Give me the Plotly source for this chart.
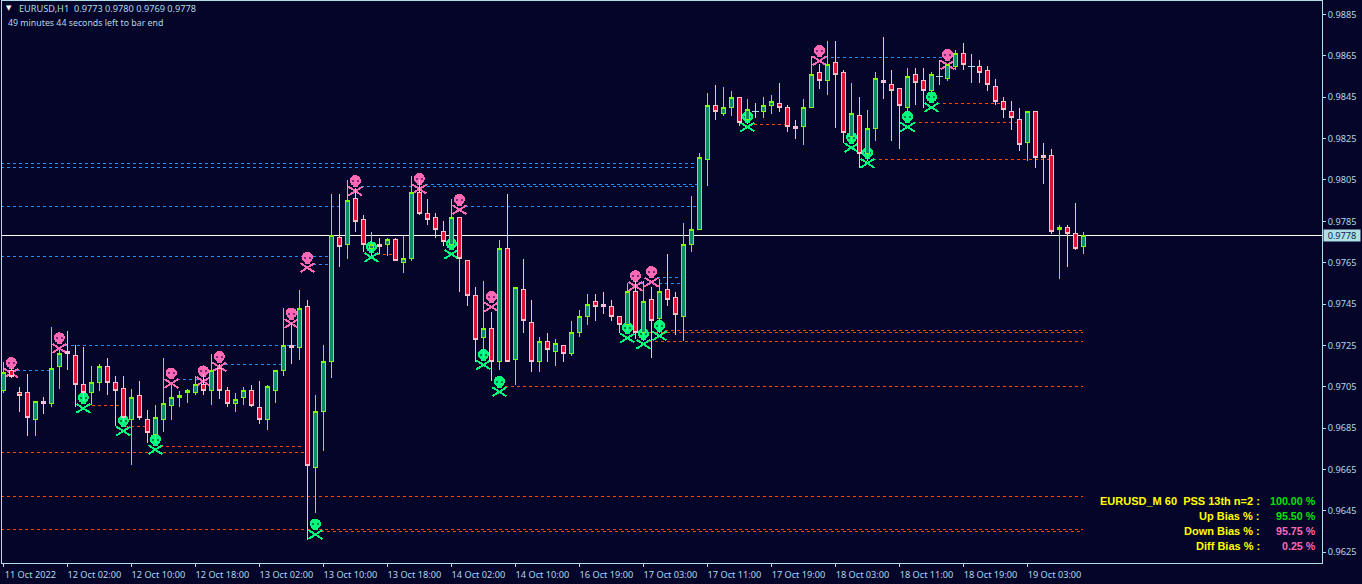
import numpy as np
import plotly.graph_objects as go

tick_labels = ["11 Oct 2022","12 Oct 02:00","12 Oct 10:00","12 Oct 18:00","13 Oct 02:00","13 Oct 10:00",
               "13 Oct 18:00","14 Oct 02:00","14 Oct 10:00","16 Oct 19:00","17 Oct 03:00","17 Oct 11:00",
               "17 Oct 19:00","18 Oct 03:00","18 Oct 11:00","18 Oct 19:00","19 Oct 03:00"]
price_ticks = [0.9885,0.9865,0.9845,0.9825,0.9805,0.9785,0.9765,0.9745,0.9725,0.9705,0.9685,0.9665,0.9645,0.9625]

opens = [.9703,.9713,.9702,.9702,.9689,.9698,.9697,.9715,.9722,.9720,
 .9706,.9702,.9707,.9715,.9707,.9704,.9689,.9701,.9689,.9682,
 .9689,.9696,.9700,.9702,.9702,.9706,.9703,.9714,.9703,.9697,
 .9700,.9703,.9695,.9689,.9703,.9713,.9725,.9724,.9744,.9666,
 .9693,.9717,.9777,.9774,.9796,.9786,.9772,.9774,.9774,.9776,
 .9765,.9767,.9799,.9789,.9787,.9780,.9774,.9787,.9766,.9749,
 .9729,.9733,.9717,.9772,.9718,.9752,.9736,.9717,.9727,.9722,
 .9725,.9721,.9731,.9739,.9746,.9745,.9744,.9739,.9735,.9751,
 .9731,.9747,.9738,.9752,.9748,.9739,.9774,.9781,.9815,.9841,
 .9837,.9840,.9845,.9834,.9838,.9838,.9841,.9842,.9840,.9831,
 .9831,.9840,.9857,.9853,.9862,.9857,.9826,.9836,.9818,.9830,
 .9853,.9851,.9849,.9840,.9856,.9853,.9848,.9855,.9854,.9860,
 .9866,.9860,.9860,.9858,.9850,.9843,.9838,.9834,.9823,.9838,
 .9817,.9817,.9781,.9782,.9779,.9773]
closes = [.9712,.9710,.9701,.9690,.9698,.9697,.9714,.9721,.9721,.9706,
 .9702,.9707,.9715,.9707,.9703,.9690,.9700,.9690,.9683,.9690,
 .9697,.9700,.9701,.9703,.9706,.9703,.9713,.9703,.9697,.9699,
 .9703,.9696,.9689,.9705,.9713,.9725,.9724,.9743,.9667,.9693,
 .9717,.9778,.9773,.9795,.9785,.9774,.9774,.9773,.9776,.9766,
 .9767,.9799,.9789,.9786,.9781,.9775,.9787,.9767,.9749,.9728,
 .9733,.9717,.9772,.9717,.9753,.9737,.9717,.9727,.9723,.9726,
 .9721,.9731,.9739,.9745,.9744,.9744,.9739,.9735,.9751,.9731,
 .9746,.9737,.9751,.9747,.9740,.9774,.9781,.9816,.9841,.9838,
 .9840,.9845,.9833,.9839,.9838,.9841,.9843,.9840,.9831,.9830,
 .9840,.9856,.9853,.9861,.9856,.9828,.9837,.9818,.9830,.9854,
 .9852,.9848,.9841,.9855,.9852,.9848,.9856,.9855,.9861,.9866,
 .9861,.9860,.9857,.9851,.9843,.9839,.9835,.9822,.9838,.9816,
 .9816,.9780,.9782,.9779,.9772,.9778]
highs = [.9717,.9714,.9705,.9711,.9698,.9700,.9734,.9723,.9732,.9725,
 .9724,.9715,.9716,.9719,.9710,.9710,.9704,.9708,.9694,.9696,
 .9719,.9706,.9703,.9704,.9710,.9711,.9721,.9716,.9705,.9702,
 .9705,.9706,.9708,.9706,.9713,.9743,.9736,.9752,.9747,.9701,
 .9725,.9798,.9798,.9805,.9801,.9788,.9780,.9777,.9777,.9777,
 .9778,.9807,.9805,.9796,.9789,.9785,.9796,.9787,.9766,.9753,
 .9756,.9741,.9776,.9798,.9753,.9767,.9747,.9729,.9731,.9728,
 .9725,.9737,.9742,.9750,.9750,.9751,.9747,.9739,.9755,.9756,
 .9756,.9753,.9757,.9769,.9751,.9784,.9797,.9818,.9847,.9851,
 .9850,.9848,.9845,.9844,.9842,.9845,.9846,.9852,.9841,.9834,
 .9844,.9865,.9861,.9872,.9872,.9858,.9852,.9845,.9839,.9857,
 .9874,.9858,.9849,.9859,.9859,.9859,.9857,.9863,.9861,.9868,
 .9871,.9866,.9863,.9860,.9854,.9845,.9843,.9840,.9838,.9838,
 .9823,.9820,.9783,.9783,.9794,.9780]
lows = [.9702,.9709,.9693,.9681,.9681,.9692,.9695,.9704,.9713,.9695,
 .9698,.9696,.9703,.9701,.9686,.9688,.9667,.9689,.9678,.9678,
 .9683,.9689,.9695,.9697,.9701,.9701,.9696,.9699,.9695,.9693,
 .9696,.9695,.9687,.9684,.9697,.9710,.9716,.9718,.9631,.9644,
 .9674,.9709,.9763,.9767,.9780,.9770,.9768,.9769,.9768,.9766,
 .9760,.9766,.9788,.9783,.9777,.9773,.9773,.9751,.9744,.9717,
 .9719,.9708,.9713,.9717,.9706,.9731,.9712,.9712,.9717,.9715,
 .9717,.9720,.9729,.9735,.9737,.9740,.9737,.9731,.9732,.9728,
 .9727,.9719,.9731,.9744,.9730,.9727,.9770,.9781,.9802,.9834,
 .9836,.9836,.9831,.9832,.9835,.9835,.9837,.9838,.9828,.9825,
 .9822,.9840,.9849,.9846,.9830,.9823,.9824,.9811,.9814,.9824,
 .9844,.9824,.9820,.9838,.9841,.9840,.9847,.9851,.9853,.9858,
 .9858,.9852,.9852,.9848,.9841,.9835,.9829,.9819,.9814,.9811,
 .9803,.9779,.9757,.9763,.9771,.9769]

last_price = 0.9778

# dashed level lines: price, first bar, last bar
blue_levels = [.9813,.9811,.9803,.9802,.9792,.9792,.9768,.9764,.9725,.9713,.9716,.97085,.9758,.9755,.9864]
blue_starts = [-1,-1,52.7,44.7,-1,57.7,-1,38.7,7.7,1.7,27.7,21.7,81.7,79.7,102.7]
blue_ends   = [86.8,86.8,86.8,86.8,42,86.8,41,41,36.6,6,35,24.7,84.4,84.7,117.7]
red_levels = [.9673,.9676,.9696,.9686,.9769,.9705,.9832,.9833,.9842,.9815,.9732,.9731,.9727,.9652,.9636,.9635]
red_starts = [-1,19.6,10.3,15.2,46.7,62.7,93.8,113.7,116.7,108.7,82.7,80.7,80.7,-1,-1,39.7]
red_ends   = [37.8,37.5,14.6,17.8,48.6,134.9,97.7,126.7,124.6,130.9,134.9,134.9,134.9,134.9,134.9,134.9]

# skull markers: bar index, price
pink_bars   = [1,7,21,25,27,36,38,44,52,57,61,79,81,102,118]
pink_prices = [.9714,.9726,.9709,.9710,.9717,.9738,.9765,.9802,.9803,.9793,.9746,.9756,.9758,.9865,.9863]
lime_bars   = [10,15,19,39,46,56,60,62,78,80,82,93,106,108,113,116]
lime_prices = [.9697,.9686,.9677,.9636,.9770,.97715,.9718,.9705,.9731,.9728,.9732,.9833,.9823,.98155,.9833,.98425]

header_text = "EURUSD,H1  0.9773 0.9780 0.9769 0.9778"
timer_text = "49 minutes 44 seconds left to bar end"
panel_names = ["EURUSD_M 60  PSS 13th n=2 :","Up Bias % :","Down Bias % :","Diff Bias % :"]
panel_values = ["100.00 %","95.50 %","95.75 %","0.25 %"]
panel_colors = ["#00e400","#00e400","#ff69b4","#ff69b4"]

BG = "#05052a"
AXIS = "#b0e0e6"
TXT = "#add8e6"
TICKFONT = dict(family="Noto Sans", size=9.2, color=TXT)

W, H = 1362, 584
ML, MR, MT, MB = 2, 40, 1, 21
def px(x): return (x-ML)/(W-ML-MR)
def py(y): return (H-MB-y)/(H-MT-MB)

x_range = [(ML+0.3-3.6)/8, (W-MR-3.6)/8]
y_range = [0.96198, 0.98915]
PRICE_PER_PX = (y_range[1]-y_range[0])/(H-MT-MB)
BAR_PER_PX = 1/8

def segments(levels, starts, ends):
    xs, ys = [], []
    for l, s, e in zip(levels, starts, ends):
        xs += [s, e, None]; ys += [l, l, None]
    return xs, ys

def add_skulls(fig, bars_, prices, col, eye):
    b = np.array(bars_, float); p = np.array(prices, float)
    # crossbones
    xs, ys = [], []
    for bi, pi in zip(b, p):
        for sx in (-1, 1):
            xs += [bi - sx*7*BAR_PER_PX, bi + sx*7*BAR_PER_PX, None]
            ys += [pi - 0.5*PRICE_PER_PX, pi - 9.5*PRICE_PER_PX, None]
    fig.add_trace(go.Scatter(x=xs, y=ys, mode="lines", hoverinfo="skip", line=dict(color=col, width=2)))
    # cranium and jaw
    fig.add_trace(go.Scatter(x=b, y=p + 5.5*PRICE_PER_PX, mode="markers", hoverinfo="skip",
                             marker=dict(symbol="circle", size=11, color=col, line=dict(width=0))))
    fig.add_trace(go.Scatter(x=b, y=p + 1.5*PRICE_PER_PX, mode="markers", hoverinfo="skip",
                             marker=dict(symbol="square", size=5, color=col, line=dict(width=0))))
    # eyes
    ex = np.concatenate([b - 2.2*BAR_PER_PX, b + 2.2*BAR_PER_PX])
    ey = np.concatenate([p + 5*PRICE_PER_PX, p + 5*PRICE_PER_PX])
    fig.add_trace(go.Scatter(x=ex, y=ey, mode="markers", hoverinfo="skip",
                             marker=dict(symbol="square", size=2, color=eye, line=dict(width=0))))

o, c, h, l = map(np.array, (opens, closes, highs, lows))
bars = np.arange(len(o))
doji = o == c

fig = go.Figure()
for lv, st, en, col in ((blue_levels, blue_starts, blue_ends, "#1e90ff"),
                        (red_levels, red_starts, red_ends, "#ff4500")):
    xs, ys = segments(lv, st, en)
    fig.add_trace(go.Scatter(x=xs, y=ys, mode="lines", hoverinfo="skip",
                             line=dict(color=col, width=1, dash="3px,3px")))
fig.add_trace(go.Scatter(x=[-1, 170], y=[last_price, last_price], mode="lines", hoverinfo="skip",
                         line=dict(color="#ffffff", width=1)))
add_skulls(fig, pink_bars, pink_prices, "#ff69b4", "#7a2a7a")
add_skulls(fig, lime_bars, lime_prices, "#00fa7a", "#067a4a")

fig.add_trace(go.Candlestick(x=bars[~doji], open=o[~doji], high=h[~doji], low=l[~doji], close=c[~doji],
                             xaxis="x2", yaxis="y2", whiskerwidth=0,
                             increasing=dict(line=dict(color="#7cfc00", width=1), fillcolor="#0e8a64"),
                             decreasing=dict(line=dict(color="#ffc0cb", width=1), fillcolor="#dc143c")))
dx, dy = [], []
for i in bars[doji]:
    dx += [int(i), int(i), None]; dy += [h[i], l[i], None]
fig.add_trace(go.Scatter(x=dx, y=dy, mode="lines", xaxis="x2", yaxis="y2", hoverinfo="skip",
                         line=dict(color=TXT, width=1)))
fig.add_trace(go.Scatter(x=bars[doji], y=c[doji], mode="markers", xaxis="x2", yaxis="y2", hoverinfo="skip",
                         marker=dict(symbol="line-ew", size=5, line=dict(color=TXT, width=1))))

ann = [
    dict(text="\u25bc", x=px(5), y=py(8), xanchor="left", font=dict(family="DejaVu Sans", size=7, color="#ffffff")),
    dict(text=header_text, x=px(18), y=py(8), xanchor="left", font=dict(family="Noto Sans", size=9.2, color=TXT)),
    dict(text=timer_text, x=px(7), y=py(23), xanchor="left", font=dict(family="Noto Sans", size=8.8, color=TXT)),
]
for k, (n, v, col) in enumerate(zip(panel_names, panel_values, panel_colors)):
    yy = py(500.5 + 15*k)
    ann.append(dict(text=n, x=px(1261), y=yy, xanchor="right", font=dict(family="Liberation Sans", size=11, color="#ffff00")))
    ann.append(dict(text=v, x=px(1317), y=yy, xanchor="right", font=dict(family="Liberation Sans", size=10.7, color=col)))
for a in ann:
    a.update(xref="paper", yref="paper", yanchor="middle", showarrow=False, borderpad=0)
    a["text"] = a["text"].replace("  ", "\u00a0\u00a0")
    if a["font"]["family"] == "Liberation Sans":
        a["text"] = "<b>" + a["text"] + "</b>"
ann.append(dict(text=f"{last_price:.4f}", xref="paper", yref="y", x=px(1323), y=last_price, xanchor="left",
                yanchor="middle", showarrow=False, bgcolor=AXIS, width=36, height=11, borderpad=0,
                font=dict(family="Noto Sans", size=9.2, color="#0a2a4a")))

axis_common = dict(showgrid=False, zeroline=False, showline=True, linecolor=AXIS, linewidth=1, mirror=True,
                   ticks="outside", ticklen=3, tickwidth=1, tickcolor=AXIS, tickfont=TICKFONT)
fig.update_layout(
    width=W, height=H, autosize=False,
    margin=dict(l=ML, r=MR, t=MT, b=MB, pad=0),
    paper_bgcolor=BG, plot_bgcolor=BG, showlegend=False, boxgap=0.375, hovermode=False,
    xaxis=dict(range=x_range, tickmode="array", tickvals=list(range(0, 136, 8)), ticktext=tick_labels,
               ticklabelshift=27, ticklabelstandoff=0, rangeslider=dict(visible=False), **axis_common),
    yaxis=dict(range=y_range, side="right", tickmode="array", tickvals=price_ticks,
               ticktext=[f"{p:.4f}" for p in price_ticks], **axis_common),
    xaxis2=dict(range=x_range, overlaying="x", visible=False, rangeslider=dict(visible=False)),
    yaxis2=dict(range=y_range, overlaying="y", visible=False),
    annotations=ann,
)
post = """
document.documentElement.style.margin='0';document.body.style.margin='0';document.body.style.overflow='hidden';
var st=document.createElement('style');st.textContent='.cartesianlayer path{shape-rendering:crispEdges}';document.head.appendChild(st);
"""
fig.write_html("out.html", config=dict(displayModeBar=False), post_script=post)
